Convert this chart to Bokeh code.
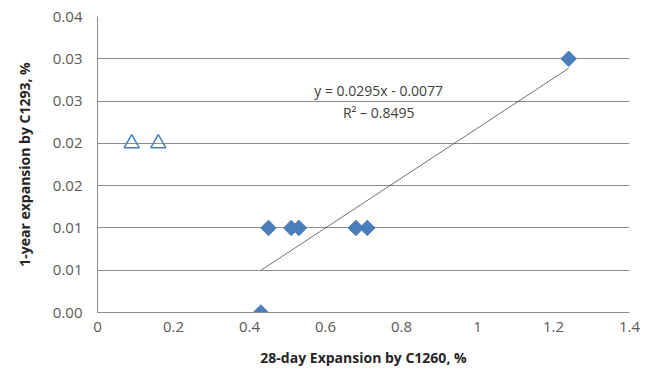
from bokeh.plotting import figure
from bokeh.models import FixedTicker, Label, ColumnDataSource
from bokeh.embed import file_html
from bokeh.resources import INLINE
import math

# ---- data ----
x_series1 = [0.43, 0.45, 0.51, 0.53, 0.68, 0.71, 1.24]
y_series1 = [0.0, 0.01, 0.01, 0.01, 0.01, 0.01, 0.03]
x_series2 = [0.09, 0.16]
y_series2 = [0.02, 0.02]
trend_slope = 0.0295
trend_intercept = -0.0077
trend_r2 = 0.8495
x_ticks = [0, 0.2, 0.4, 0.6, 0.8, 1.0, 1.2, 1.4]
x_tick_labels = ["0", "0.2", "0.4", "0.6", "0.8", "1", "1.2", "1.4"]
y_ticks = [0, 0.005, 0.01, 0.015, 0.02, 0.025, 0.03, 0.035]
y_tick_labels = ["0.00", "0.01", "0.01", "0.02", "0.02", "0.03", "0.03", "0.04"]
x_title = "28-day Expansion by C1260, %"
y_title = "1-year expansion by C1293, %"

BLUE = "#4a7ebb"
GRID = "#8c8c8c"
TXT = "#595959"
FONT = "Open Sans"

p = figure(width=640, height=371, x_range=(x_ticks[0], x_ticks[-1]),
           y_range=(y_ticks[0], y_ticks[-1]),
           output_backend="svg", toolbar_location=None,
           min_border_left=97, min_border_right=11, min_border_top=16,
           min_border_bottom=59)
p.outline_line_color = None
p.background_fill_color = "white"
p.border_fill_color = "white"

# axes
p.xaxis.ticker = FixedTicker(ticks=x_ticks)
p.yaxis.ticker = FixedTicker(ticks=y_ticks)
p.xaxis.major_label_overrides = {t: l for t, l in zip(x_ticks, x_tick_labels)}
p.yaxis.major_label_overrides = {t: l for t, l in zip(y_ticks, y_tick_labels)}
for ax in (p.xaxis, p.yaxis):
    ax.axis_line_color = GRID
    ax.axis_line_width = 1
    ax.major_tick_line_color = None
    ax.minor_tick_line_color = None
    ax.major_tick_out = 0
    ax.major_tick_in = 0
    ax.major_label_text_font = FONT
    ax.major_label_text_font_size = "15px"
    ax.major_label_text_color = TXT
    ax.axis_label_text_font = FONT
    ax.axis_label_text_font_size = "14px"
    ax.axis_label_text_font_style = "bold"
    ax.axis_label_text_color = "#262626"
p.xaxis.axis_label = x_title
p.yaxis.axis_label = y_title
p.xaxis.major_label_standoff = 9
p.xaxis.axis_label_standoff = 13
p.yaxis.major_label_standoff = 15
p.yaxis.axis_label_standoff = 16

p.xgrid.visible = False
p.ygrid.grid_line_color = GRID
p.ygrid.grid_line_width = 1

# trendline over the range of series 1
tx = [min(x_series1), max(x_series1)]
ty = [trend_slope * v + trend_intercept for v in tx]
p.line(tx, ty, line_color="#404040", line_width=0.75)

# series
s1 = ColumnDataSource(dict(x=x_series1, y=y_series1))
p.scatter("x", "y", source=s1, marker="square", angle=math.pi / 4, size=11,
          fill_color=BLUE, line_color=BLUE)
s2 = ColumnDataSource(dict(x=x_series2, y=y_series2))
p.scatter("x", "y", source=s2, marker="triangle", size=15,
          fill_color=None, line_color=BLUE, line_width=1.5)

# trendline equation
eq = f"y = {trend_slope}x - {abs(trend_intercept)}"
r2 = f"R\u00b2 \u2013 {trend_r2}"
p.add_layout(Label(x=0.74, y=0.0262, text=eq, text_align="center",
                   text_baseline="middle", text_font=FONT,
                   text_font_size="14px", text_color="#404040"))
p.add_layout(Label(x=0.74, y=0.0236, text=r2, text_align="center",
                   text_baseline="middle", text_font=FONT,
                   text_font_size="14px", text_color="#404040"))

open("out.html", "w").write(file_html(p, INLINE))
